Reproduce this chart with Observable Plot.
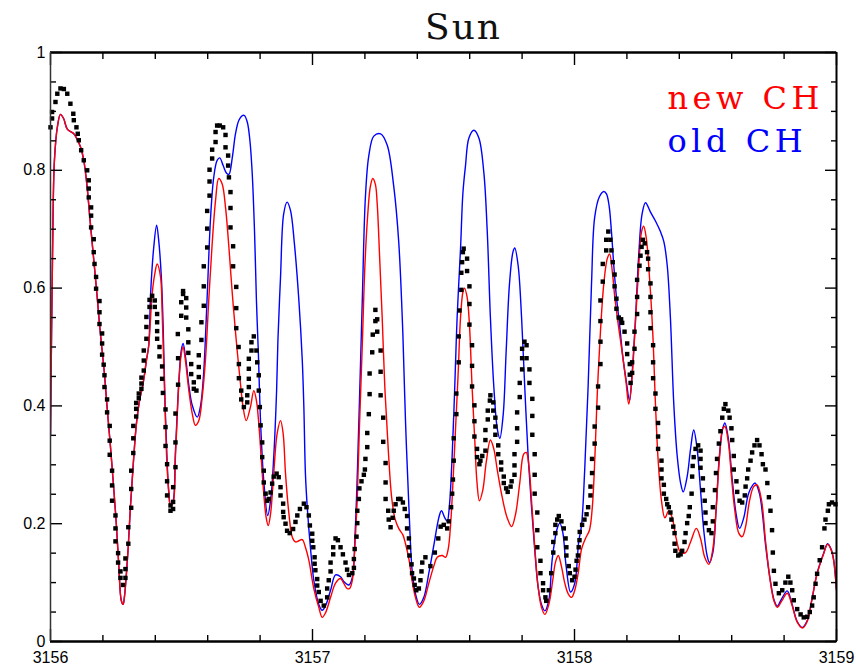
<!DOCTYPE html>
<html><head><meta charset="utf-8">
<script src="https://cdn.jsdelivr.net/npm/d3@7"></script>
<script src="https://cdn.jsdelivr.net/npm/@observablehq/plot@0.6"></script>
<style>
html,body{margin:0;padding:0;background:#fff;}
#chart svg{display:block;}
</style></head><body><div id="chart"></div>
<script>
const titleText = "Sun";
const legendLabels = ["new CH", "old CH"];
const legendColors = ["#ff0000", "#0000ff"];
const xTicksMajor = [3156, 3157, 3158, 3159];
const xTicksMinor = [3156.2, 3156.4, 3156.6, 3156.8, 3157.2, 3157.4, 3157.6, 3157.8, 3158.2, 3158.4, 3158.6, 3158.8];
const yTicksMajor = [0, 0.2, 0.4, 0.6, 0.8, 1];
const yTicksMinor = [0.05, 0.1, 0.15, 0.25, 0.3, 0.35, 0.45, 0.5, 0.55, 0.65, 0.7, 0.75, 0.85, 0.9, 0.95];

// observed solar spectrum (black squares): [wavelength, flux]
const observed = [[3156.000,0.873],[3156.006,0.888],[3156.006,0.899],[3156.019,0.916],[3156.026,0.930],[3156.038,0.939],[3156.051,0.938],[3156.064,0.930],[3156.076,0.913],[3156.087,0.896],[3156.089,0.885],[3156.099,0.873],[3156.104,0.862],[3156.108,0.851],[3156.117,0.834],[3156.127,0.817],[3156.140,0.800],[3156.146,0.783],[3156.146,0.769],[3156.146,0.754],[3156.155,0.737],[3156.155,0.723],[3156.155,0.703],[3156.165,0.683],[3156.165,0.661],[3156.168,0.641],[3156.174,0.619],[3156.174,0.599],[3156.187,0.578],[3156.187,0.559],[3156.187,0.539],[3156.197,0.523],[3156.197,0.506],[3156.197,0.487],[3156.203,0.470],[3156.206,0.452],[3156.206,0.432],[3156.216,0.411],[3156.216,0.389],[3156.226,0.366],[3156.226,0.341],[3156.226,0.317],[3156.235,0.290],[3156.235,0.265],[3156.235,0.239],[3156.248,0.214],[3156.248,0.192],[3156.248,0.170],[3156.258,0.150],[3156.258,0.134],[3156.267,0.119],[3156.267,0.108],[3156.277,0.096],[3156.286,0.108],[3156.286,0.123],[3156.286,0.141],[3156.297,0.166],[3156.297,0.194],[3156.308,0.227],[3156.308,0.259],[3156.308,0.290],[3156.316,0.320],[3156.316,0.345],[3156.316,0.366],[3156.327,0.382],[3156.327,0.395],[3156.327,0.405],[3156.337,0.413],[3156.337,0.421],[3156.347,0.429],[3156.347,0.438],[3156.347,0.448],[3156.356,0.460],[3156.356,0.477],[3156.356,0.494],[3156.366,0.514],[3156.366,0.534],[3156.366,0.551],[3156.378,0.568],[3156.378,0.580],[3156.388,0.587],[3156.398,0.579],[3156.398,0.568],[3156.407,0.556],[3156.407,0.542],[3156.407,0.527],[3156.407,0.514],[3156.416,0.500],[3156.416,0.484],[3156.426,0.467],[3156.426,0.446],[3156.429,0.422],[3156.439,0.394],[3156.439,0.364],[3156.439,0.332],[3156.445,0.301],[3156.445,0.272],[3156.445,0.248],[3156.458,0.231],[3156.458,0.222],[3156.468,0.225],[3156.468,0.237],[3156.468,0.262],[3156.477,0.296],[3156.477,0.338],[3156.477,0.387],[3156.487,0.436],[3156.487,0.481],[3156.486,0.522],[3156.499,0.553],[3156.499,0.576],[3156.506,0.590],[3156.506,0.595],[3156.518,0.583],[3156.518,0.567],[3156.518,0.550],[3156.526,0.530],[3156.526,0.508],[3156.526,0.490],[3156.537,0.471],[3156.537,0.454],[3156.547,0.440],[3156.547,0.429],[3156.557,0.426],[3156.566,0.449],[3156.566,0.466],[3156.566,0.486],[3156.576,0.512],[3156.576,0.542],[3156.585,0.570],[3156.585,0.603],[3156.585,0.637],[3156.598,0.669],[3156.598,0.701],[3156.598,0.731],[3156.607,0.757],[3156.607,0.781],[3156.607,0.801],[3156.617,0.820],[3156.617,0.835],[3156.630,0.848],[3156.630,0.865],[3156.636,0.876],[3156.646,0.876],[3156.659,0.873],[3156.668,0.860],[3156.668,0.839],[3156.678,0.825],[3156.678,0.808],[3156.681,0.788],[3156.687,0.763],[3156.687,0.736],[3156.687,0.703],[3156.697,0.671],[3156.697,0.637],[3156.709,0.602],[3156.709,0.566],[3156.709,0.532],[3156.718,0.500],[3156.719,0.471],[3156.719,0.447],[3156.728,0.426],[3156.728,0.411],[3156.738,0.398],[3156.751,0.406],[3156.751,0.418],[3156.757,0.432],[3156.757,0.446],[3156.757,0.463],[3156.757,0.480],[3156.767,0.494],[3156.767,0.508],[3156.776,0.518],[3156.786,0.494],[3156.789,0.474],[3156.795,0.452],[3156.795,0.426],[3156.799,0.398],[3156.802,0.367],[3156.808,0.338],[3156.808,0.313],[3156.814,0.290],[3156.814,0.270],[3156.821,0.251],[3156.827,0.239],[3156.833,0.242],[3156.840,0.253],[3156.846,0.268],[3156.852,0.280],[3156.863,0.285],[3156.871,0.279],[3156.878,0.262],[3156.878,0.248],[3156.888,0.234],[3156.888,0.220],[3156.890,0.211],[3156.897,0.200],[3156.903,0.188],[3156.913,0.184],[3156.926,0.191],[3156.935,0.203],[3156.942,0.214],[3156.952,0.225],[3156.967,0.234],[3156.977,0.228],[3156.986,0.214],[3156.990,0.197],[3156.999,0.183],[3156.999,0.171],[3157.003,0.160],[3157.008,0.143],[3157.008,0.132],[3157.011,0.121],[3157.018,0.106],[3157.018,0.095],[3157.024,0.084],[3157.031,0.069],[3157.043,0.061],[3157.056,0.075],[3157.056,0.090],[3157.062,0.104],[3157.069,0.119],[3157.069,0.134],[3157.079,0.148],[3157.079,0.160],[3157.088,0.175],[3157.097,0.172],[3157.107,0.160],[3157.116,0.148],[3157.126,0.134],[3157.132,0.122],[3157.139,0.113],[3157.152,0.116],[3157.158,0.125],[3157.158,0.140],[3157.161,0.157],[3157.168,0.178],[3157.171,0.201],[3157.171,0.222],[3157.177,0.242],[3157.179,0.260],[3157.187,0.272],[3157.196,0.283],[3157.200,0.292],[3157.202,0.310],[3157.209,0.330],[3157.209,0.354],[3157.215,0.386],[3157.218,0.420],[3157.218,0.455],[3157.228,0.491],[3157.230,0.521],[3157.240,0.544],[3157.240,0.563],[3157.247,0.547],[3157.247,0.526],[3157.260,0.494],[3157.260,0.458],[3157.260,0.418],[3157.270,0.380],[3157.270,0.339],[3157.279,0.303],[3157.279,0.270],[3157.279,0.242],[3157.289,0.222],[3157.291,0.207],[3157.298,0.194],[3157.306,0.210],[3157.310,0.222],[3157.317,0.233],[3157.327,0.242],[3157.336,0.242],[3157.345,0.236],[3157.352,0.225],[3157.361,0.213],[3157.361,0.192],[3157.368,0.175],[3157.368,0.160],[3157.370,0.146],[3157.378,0.131],[3157.380,0.116],[3157.387,0.107],[3157.390,0.096],[3157.396,0.087],[3157.406,0.090],[3157.412,0.104],[3157.416,0.119],[3157.419,0.134],[3157.431,0.143],[3157.450,0.128],[3157.467,0.151],[3157.480,0.175],[3157.489,0.195],[3157.501,0.198],[3157.514,0.192],[3157.520,0.204],[3157.529,0.228],[3157.533,0.251],[3157.536,0.275],[3157.539,0.307],[3157.539,0.345],[3157.549,0.386],[3157.549,0.421],[3157.558,0.474],[3157.558,0.518],[3157.561,0.562],[3157.568,0.597],[3157.568,0.626],[3157.571,0.644],[3157.574,0.661],[3157.577,0.667],[3157.590,0.650],[3157.590,0.629],[3157.599,0.603],[3157.599,0.573],[3157.599,0.538],[3157.609,0.503],[3157.609,0.468],[3157.609,0.433],[3157.618,0.401],[3157.618,0.374],[3157.618,0.348],[3157.628,0.327],[3157.628,0.313],[3157.637,0.301],[3157.641,0.307],[3157.648,0.315],[3157.660,0.324],[3157.660,0.342],[3157.660,0.359],[3157.669,0.377],[3157.669,0.392],[3157.677,0.409],[3157.679,0.418],[3157.690,0.406],[3157.690,0.392],[3157.698,0.380],[3157.698,0.365],[3157.698,0.351],[3157.709,0.333],[3157.709,0.318],[3157.720,0.304],[3157.720,0.292],[3157.730,0.280],[3157.730,0.269],[3157.739,0.260],[3157.745,0.254],[3157.756,0.263],[3157.760,0.272],[3157.771,0.283],[3157.771,0.299],[3157.771,0.318],[3157.781,0.339],[3157.781,0.362],[3157.781,0.389],[3157.791,0.415],[3157.791,0.439],[3157.800,0.462],[3157.800,0.481],[3157.800,0.497],[3157.809,0.509],[3157.817,0.503],[3157.817,0.481],[3157.828,0.462],[3157.828,0.439],[3157.839,0.412],[3157.839,0.383],[3157.839,0.351],[3157.848,0.318],[3157.848,0.283],[3157.848,0.251],[3157.858,0.219],[3157.858,0.189],[3157.858,0.160],[3157.870,0.137],[3157.870,0.116],[3157.880,0.099],[3157.880,0.087],[3157.889,0.075],[3157.892,0.069],[3157.902,0.087],[3157.911,0.116],[3157.919,0.151],[3157.919,0.169],[3157.927,0.184],[3157.927,0.198],[3157.934,0.207],[3157.940,0.213],[3157.950,0.204],[3157.959,0.192],[3157.966,0.175],[3157.969,0.160],[3157.969,0.146],[3157.978,0.128],[3157.982,0.116],[3157.991,0.104],[3158.000,0.110],[3158.004,0.122],[3158.008,0.137],[3158.013,0.146],[3158.016,0.160],[3158.019,0.172],[3158.020,0.186],[3158.029,0.198],[3158.038,0.207],[3158.046,0.216],[3158.052,0.228],[3158.061,0.248],[3158.061,0.263],[3158.067,0.286],[3158.067,0.310],[3158.077,0.336],[3158.077,0.365],[3158.090,0.397],[3158.090,0.433],[3158.099,0.471],[3158.099,0.509],[3158.099,0.544],[3158.099,0.579],[3158.108,0.611],[3158.108,0.641],[3158.121,0.664],[3158.121,0.682],[3158.129,0.696],[3158.137,0.682],[3158.141,0.664],[3158.146,0.644],[3158.153,0.623],[3158.153,0.603],[3158.160,0.582],[3158.160,0.565],[3158.169,0.550],[3158.178,0.547],[3158.182,0.541],[3158.191,0.526],[3158.201,0.506],[3158.201,0.488],[3158.211,0.471],[3158.211,0.453],[3158.214,0.439],[3158.220,0.456],[3158.220,0.474],[3158.229,0.497],[3158.229,0.526],[3158.239,0.556],[3158.239,0.585],[3158.239,0.614],[3158.248,0.638],[3158.252,0.655],[3158.256,0.670],[3158.261,0.682],[3158.268,0.676],[3158.277,0.661],[3158.281,0.650],[3158.281,0.632],[3158.290,0.608],[3158.290,0.585],[3158.290,0.559],[3158.290,0.532],[3158.300,0.503],[3158.300,0.474],[3158.300,0.447],[3158.309,0.421],[3158.309,0.395],[3158.319,0.371],[3158.319,0.348],[3158.319,0.327],[3158.332,0.307],[3158.332,0.292],[3158.332,0.277],[3158.341,0.266],[3158.341,0.251],[3158.350,0.242],[3158.354,0.233],[3158.360,0.228],[3158.366,0.219],[3158.370,0.207],[3158.377,0.195],[3158.382,0.184],[3158.382,0.166],[3158.385,0.154],[3158.396,0.146],[3158.405,0.148],[3158.411,0.154],[3158.420,0.169],[3158.424,0.184],[3158.430,0.201],[3158.436,0.213],[3158.440,0.228],[3158.447,0.251],[3158.449,0.280],[3158.451,0.298],[3158.455,0.313],[3158.462,0.327],[3158.472,0.333],[3158.481,0.324],[3158.481,0.310],[3158.481,0.295],[3158.490,0.277],[3158.490,0.257],[3158.497,0.239],[3158.500,0.219],[3158.500,0.201],[3158.513,0.189],[3158.523,0.184],[3158.528,0.204],[3158.528,0.228],[3158.536,0.257],[3158.540,0.286],[3158.544,0.310],[3158.551,0.336],[3158.557,0.357],[3158.564,0.380],[3158.570,0.395],[3158.576,0.403],[3158.587,0.392],[3158.592,0.380],[3158.599,0.362],[3158.602,0.342],[3158.608,0.315],[3158.608,0.292],[3158.618,0.272],[3158.621,0.254],[3158.630,0.239],[3158.640,0.236],[3158.650,0.248],[3158.653,0.263],[3158.659,0.277],[3158.663,0.292],[3158.672,0.307],[3158.678,0.321],[3158.687,0.333],[3158.697,0.342],[3158.706,0.333],[3158.714,0.318],[3158.719,0.301],[3158.729,0.292],[3158.736,0.269],[3158.742,0.245],[3158.748,0.222],[3158.754,0.189],[3158.757,0.151],[3158.761,0.120],[3158.767,0.098],[3158.780,0.082],[3158.793,0.087],[3158.805,0.100],[3158.816,0.110],[3158.824,0.100],[3158.831,0.087],[3158.837,0.070],[3158.850,0.055],[3158.863,0.046],[3158.875,0.041],[3158.888,0.042],[3158.898,0.050],[3158.907,0.061],[3158.913,0.075],[3158.920,0.098],[3158.926,0.115],[3158.936,0.138],[3158.945,0.160],[3158.954,0.192],[3158.958,0.207],[3158.967,0.222],[3158.971,0.233],[3158.983,0.236],[3158.996,0.233]];

// synthetic spectrum with new CH line list (red)
const newCH = [[3156.000,0.350],[3156.008,0.664],[3156.015,0.817],[3156.027,0.876],[3156.038,0.895],[3156.050,0.888],[3156.064,0.870],[3156.089,0.862],[3156.099,0.855],[3156.115,0.839],[3156.127,0.817],[3156.140,0.771],[3156.150,0.720],[3156.163,0.658],[3156.176,0.596],[3156.188,0.534],[3156.197,0.494],[3156.206,0.454],[3156.216,0.398],[3156.229,0.330],[3156.242,0.256],[3156.252,0.194],[3156.261,0.126],[3156.270,0.070],[3156.277,0.063],[3156.282,0.075],[3156.295,0.149],[3156.305,0.228],[3156.316,0.302],[3156.328,0.370],[3156.341,0.412],[3156.351,0.432],[3156.359,0.454],[3156.366,0.477],[3156.375,0.503],[3156.388,0.590],[3156.398,0.624],[3156.407,0.641],[3156.420,0.619],[3156.426,0.562],[3156.432,0.477],[3156.439,0.370],[3156.445,0.296],[3156.452,0.251],[3156.458,0.231],[3156.467,0.234],[3156.477,0.316],[3156.490,0.438],[3156.499,0.488],[3156.506,0.500],[3156.515,0.477],[3156.528,0.426],[3156.541,0.387],[3156.553,0.367],[3156.566,0.375],[3156.579,0.415],[3156.592,0.482],[3156.604,0.579],[3156.617,0.675],[3156.630,0.749],[3156.642,0.786],[3156.655,0.777],[3156.668,0.737],[3156.681,0.669],[3156.694,0.590],[3156.709,0.511],[3156.725,0.438],[3156.735,0.398],[3156.747,0.375],[3156.763,0.398],[3156.776,0.426],[3156.786,0.409],[3156.795,0.370],[3156.804,0.313],[3156.814,0.251],[3156.823,0.211],[3156.831,0.197],[3156.840,0.217],[3156.852,0.285],[3156.865,0.353],[3156.878,0.375],[3156.888,0.353],[3156.897,0.285],[3156.910,0.217],[3156.923,0.177],[3156.935,0.169],[3156.948,0.171],[3156.961,0.173],[3156.973,0.160],[3156.986,0.138],[3157.005,0.090],[3157.024,0.058],[3157.037,0.041],[3157.050,0.049],[3157.069,0.075],[3157.088,0.099],[3157.107,0.107],[3157.119,0.099],[3157.132,0.090],[3157.142,0.090],[3157.152,0.104],[3157.161,0.157],[3157.171,0.245],[3157.179,0.362],[3157.190,0.503],[3157.200,0.638],[3157.211,0.726],[3157.221,0.773],[3157.230,0.786],[3157.240,0.776],[3157.247,0.743],[3157.256,0.655],[3157.266,0.550],[3157.276,0.433],[3157.289,0.327],[3157.302,0.245],[3157.314,0.210],[3157.329,0.192],[3157.345,0.181],[3157.355,0.166],[3157.368,0.140],[3157.380,0.104],[3157.393,0.075],[3157.408,0.058],[3157.425,0.069],[3157.444,0.099],[3157.463,0.128],[3157.476,0.143],[3157.495,0.146],[3157.508,0.143],[3157.518,0.157],[3157.527,0.198],[3157.536,0.269],[3157.546,0.362],[3157.556,0.456],[3157.565,0.550],[3157.574,0.593],[3157.580,0.600],[3157.590,0.585],[3157.599,0.538],[3157.609,0.433],[3157.619,0.345],[3157.628,0.269],[3157.637,0.239],[3157.650,0.257],[3157.663,0.304],[3157.679,0.342],[3157.692,0.327],[3157.705,0.292],[3157.724,0.245],[3157.743,0.210],[3157.760,0.195],[3157.775,0.216],[3157.791,0.269],[3157.806,0.318],[3157.816,0.321],[3157.826,0.298],[3157.836,0.239],[3157.848,0.163],[3157.861,0.093],[3157.874,0.058],[3157.887,0.046],[3157.902,0.063],[3157.917,0.104],[3157.927,0.134],[3157.938,0.146],[3157.950,0.128],[3157.963,0.099],[3157.976,0.081],[3157.989,0.075],[3158.001,0.087],[3158.014,0.116],[3158.027,0.157],[3158.042,0.175],[3158.057,0.189],[3158.068,0.228],[3158.078,0.315],[3158.087,0.421],[3158.099,0.526],[3158.112,0.608],[3158.125,0.650],[3158.134,0.658],[3158.145,0.625],[3158.154,0.584],[3158.167,0.538],[3158.182,0.491],[3158.197,0.439],[3158.207,0.403],[3158.218,0.439],[3158.230,0.521],[3158.243,0.620],[3158.256,0.696],[3158.264,0.705],[3158.274,0.685],[3158.286,0.620],[3158.299,0.521],[3158.309,0.403],[3158.319,0.310],[3158.332,0.239],[3158.345,0.210],[3158.360,0.222],[3158.373,0.210],[3158.388,0.175],[3158.405,0.151],[3158.424,0.151],[3158.443,0.169],[3158.465,0.192],[3158.481,0.175],[3158.497,0.143],[3158.513,0.131],[3158.528,0.157],[3158.541,0.228],[3158.553,0.310],[3158.566,0.362],[3158.574,0.365],[3158.587,0.339],[3158.599,0.280],[3158.612,0.222],[3158.627,0.184],[3158.640,0.178],[3158.653,0.195],[3158.668,0.239],[3158.684,0.263],[3158.697,0.266],[3158.714,0.239],[3158.729,0.171],[3158.748,0.100],[3158.762,0.068],[3158.774,0.058],[3158.790,0.068],[3158.812,0.082],[3158.830,0.062],[3158.850,0.033],[3158.870,0.023],[3158.888,0.034],[3158.905,0.068],[3158.926,0.115],[3158.951,0.149],[3158.966,0.165],[3158.980,0.155],[3158.989,0.138],[3159.000,0.087]];

// synthetic spectrum with old CH line list (blue)
const oldCH = [[3156.000,0.350],[3156.008,0.664],[3156.015,0.817],[3156.027,0.876],[3156.038,0.895],[3156.050,0.888],[3156.064,0.870],[3156.089,0.862],[3156.099,0.855],[3156.115,0.839],[3156.127,0.817],[3156.140,0.771],[3156.150,0.720],[3156.163,0.658],[3156.176,0.596],[3156.188,0.534],[3156.197,0.494],[3156.206,0.454],[3156.216,0.398],[3156.229,0.330],[3156.242,0.256],[3156.252,0.194],[3156.261,0.126],[3156.270,0.070],[3156.277,0.063],[3156.282,0.075],[3156.295,0.149],[3156.305,0.228],[3156.316,0.302],[3156.328,0.370],[3156.341,0.412],[3156.351,0.432],[3156.359,0.454],[3156.366,0.477],[3156.375,0.503],[3156.382,0.590],[3156.394,0.669],[3156.405,0.707],[3156.413,0.681],[3156.423,0.619],[3156.430,0.534],[3156.437,0.409],[3156.445,0.307],[3156.452,0.251],[3156.458,0.231],[3156.467,0.236],[3156.477,0.324],[3156.490,0.443],[3156.499,0.494],[3156.506,0.506],[3156.515,0.484],[3156.528,0.435],[3156.541,0.401],[3156.560,0.381],[3156.573,0.401],[3156.584,0.452],[3156.592,0.522],[3156.600,0.607],[3156.611,0.720],[3156.623,0.788],[3156.636,0.817],[3156.646,0.821],[3156.659,0.808],[3156.672,0.795],[3156.681,0.793],[3156.694,0.822],[3156.706,0.862],[3156.719,0.885],[3156.732,0.893],[3156.740,0.893],[3156.751,0.882],[3156.761,0.851],[3156.770,0.794],[3156.779,0.692],[3156.786,0.579],[3156.793,0.494],[3156.802,0.370],[3156.814,0.273],[3156.829,0.214],[3156.840,0.239],[3156.852,0.313],[3156.863,0.426],[3156.868,0.511],[3156.878,0.619],[3156.890,0.726],[3156.903,0.746],[3156.916,0.732],[3156.931,0.675],[3156.948,0.579],[3156.961,0.477],[3156.967,0.398],[3156.973,0.285],[3156.980,0.228],[3156.992,0.160],[3157.005,0.104],[3157.024,0.063],[3157.037,0.053],[3157.050,0.061],[3157.069,0.087],[3157.088,0.113],[3157.107,0.110],[3157.119,0.102],[3157.139,0.096],[3157.152,0.109],[3157.164,0.198],[3157.177,0.374],[3157.190,0.579],[3157.202,0.755],[3157.215,0.825],[3157.234,0.858],[3157.260,0.862],[3157.285,0.843],[3157.310,0.773],[3157.329,0.679],[3157.345,0.521],[3157.355,0.374],[3157.368,0.228],[3157.380,0.122],[3157.393,0.081],[3157.408,0.063],[3157.425,0.075],[3157.444,0.116],[3157.463,0.163],[3157.482,0.210],[3157.492,0.222],[3157.505,0.210],[3157.514,0.204],[3157.523,0.233],[3157.533,0.315],[3157.543,0.433],[3157.552,0.550],[3157.565,0.667],[3157.574,0.761],[3157.584,0.808],[3157.597,0.855],[3157.616,0.868],[3157.635,0.855],[3157.654,0.796],[3157.667,0.696],[3157.679,0.550],[3157.692,0.433],[3157.705,0.362],[3157.715,0.345],[3157.728,0.386],[3157.739,0.491],[3157.752,0.608],[3157.765,0.661],[3157.772,0.668],[3157.785,0.638],[3157.798,0.550],[3157.810,0.433],[3157.823,0.315],[3157.836,0.228],[3157.848,0.157],[3157.861,0.093],[3157.874,0.063],[3157.887,0.052],[3157.902,0.070],[3157.915,0.140],[3157.934,0.192],[3157.944,0.201],[3157.955,0.186],[3157.968,0.128],[3157.985,0.084],[3158.001,0.099],[3158.016,0.169],[3158.027,0.198],[3158.039,0.292],[3158.052,0.433],[3158.065,0.608],[3158.077,0.720],[3158.095,0.755],[3158.112,0.764],[3158.122,0.760],[3158.132,0.740],[3158.141,0.696],[3158.150,0.638],[3158.160,0.585],[3158.172,0.538],[3158.184,0.485],[3158.197,0.444],[3158.210,0.409],[3158.220,0.456],[3158.233,0.550],[3158.245,0.655],[3158.258,0.726],[3158.271,0.745],[3158.290,0.729],[3158.309,0.714],[3158.328,0.696],[3158.341,0.679],[3158.354,0.638],[3158.366,0.550],[3158.379,0.403],[3158.392,0.315],[3158.405,0.269],[3158.415,0.254],[3158.430,0.280],[3158.443,0.327],[3158.455,0.359],[3158.468,0.327],[3158.481,0.257],[3158.494,0.186],[3158.506,0.146],[3158.515,0.134],[3158.528,0.151],[3158.541,0.228],[3158.553,0.315],[3158.566,0.362],[3158.574,0.371],[3158.587,0.345],[3158.602,0.275],[3158.617,0.216],[3158.630,0.192],[3158.646,0.210],[3158.664,0.251],[3158.681,0.266],[3158.690,0.269],[3158.706,0.251],[3158.718,0.214],[3158.729,0.165],[3158.748,0.102],[3158.762,0.070],[3158.774,0.060],[3158.790,0.072],[3158.812,0.086],[3158.830,0.064],[3158.850,0.034],[3158.870,0.024],[3158.888,0.035],[3158.905,0.069],[3158.926,0.116],[3158.951,0.150],[3158.966,0.166],[3158.980,0.156],[3158.989,0.139],[3159.000,0.088]];

const px = d => d[0], py = d => d[1];
const axisCommon = {strokeWidth: 1.4, label: null};

const chart = Plot.plot({
  width: 856,
  height: 669,
  marginLeft: 50,
  marginRight: 20,
  marginTop: 52,
  marginBottom: 28,
  style: {fontFamily: "'Liberation Sans', Arial, sans-serif", fontSize: "16px", background: "#ffffff", color: "#000000"},
  x: {domain: [3156, 3159], axis: null},
  y: {domain: [0, 1], axis: null},
  marks: [
    Plot.line(oldCH, {x: px, y: py, stroke: legendColors[1], strokeWidth: 1.4, curve: "catmull-rom", clip: true}),
    Plot.line(newCH, {x: px, y: py, stroke: legendColors[0], strokeWidth: 1.4, curve: "catmull-rom", clip: true}),
    Plot.dot(observed, {x: px, y: py, symbol: "square", r: 2.5, fill: "#000000", stroke: null}),
    Plot.axisX(xTicksMinor, {...axisCommon, anchor: "bottom", tickSize: -6, tickFormat: () => ""}),
    Plot.axisX(xTicksMajor, {...axisCommon, anchor: "bottom", tickSize: -12, tickPadding: 22, tickFormat: d => String(d)}),
    Plot.axisX(xTicksMinor, {...axisCommon, anchor: "top", tickSize: -6, tickFormat: () => ""}),
    Plot.axisX(xTicksMajor, {...axisCommon, anchor: "top", tickSize: -12, tickFormat: () => ""}),
    Plot.axisY(yTicksMinor, {...axisCommon, anchor: "left", tickSize: -6, tickFormat: () => ""}),
    Plot.axisY(yTicksMajor, {...axisCommon, anchor: "left", tickSize: -12, tickPadding: 17, tickFormat: d => String(d)}),
    Plot.axisY(yTicksMinor, {...axisCommon, anchor: "right", tickSize: -6, tickFormat: () => ""}),
    Plot.axisY(yTicksMajor, {...axisCommon, anchor: "right", tickSize: -12, tickFormat: () => ""}),
    Plot.ruleY([0], {stroke: "#000", strokeWidth: 2.6}),
    Plot.ruleY([1], {stroke: "#000", strokeWidth: 2.6}),
    Plot.ruleX([3156], {stroke: "#333", strokeWidth: 1.5}),
    Plot.ruleX([3159], {stroke: "#000", strokeWidth: 2}),
    Plot.text([titleText], {frameAnchor: "top", dx: 20, dy: -14, lineAnchor: "bottom", fontSize: 36, fontFamily: "'DejaVu Serif', serif", fill: "#111"}),
    Plot.text([legendLabels[0]], {frameAnchor: "top-left", textAnchor: "start", dx: 617, dy: 56, lineAnchor: "bottom", fontSize: 32, fontFamily: "'DejaVu Serif', serif", fill: legendColors[0]}),
    Plot.text([legendLabels[1]], {frameAnchor: "top-left", textAnchor: "start", dx: 617, dy: 99, lineAnchor: "bottom", fontSize: 32, fontFamily: "'DejaVu Serif', serif", fill: legendColors[1]})
  ]
});
// widen the letter spacing of the title and the legend words as in the original
d3.select(chart).selectAll("text").each(function () {
  const t = this.textContent;
  if (legendLabels.includes(t)) this.setAttribute("letter-spacing", "4.5");
  else if (t === titleText) this.setAttribute("letter-spacing", "2");
});
document.getElementById("chart").appendChild(chart);
</script>
</body></html>
